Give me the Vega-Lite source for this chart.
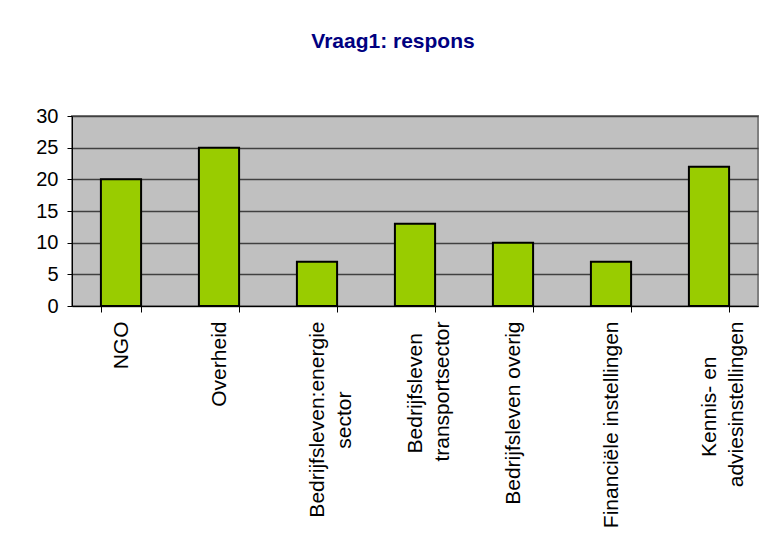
{
  "$schema": "https://vega.github.io/schema/vega-lite/v6.json",
  "autosize": "none",
  "width": 686,
  "height": 190,
  "padding": {"left": 72, "top": 116, "right": 4, "bottom": 238},
  "background": "white",
  "title": {
    "text": "Vraag1: respons",
    "font": "Liberation Sans",
    "fontSize": 21,
    "fontWeight": "bold",
    "color": "#000080",
    "anchor": "middle",
    "dx": -22,
    "offset": 54
  },
  "data": {
    "values": [
      {"groep": "NGO", "aantal": 20},
      {"groep": "Overheid", "aantal": 25},
      {"groep": "Bedrijfsleven:energie|sector", "aantal": 7},
      {"groep": "Bedrijfsleven|transportsector", "aantal": 13},
      {"groep": "Bedrijfsleven overig", "aantal": 10},
      {"groep": "Financiële instellingen", "aantal": 7},
      {"groep": "Kennis- en|adviesinstellingen", "aantal": 22}
    ]
  },
  "mark": {"type": "bar", "color": "#99cc00", "stroke": "#000000", "strokeWidth": 2},
  "encoding": {
    "x": {
      "field": "groep",
      "type": "nominal",
      "sort": null,
      "scale": {"paddingInner": 0.59, "paddingOuter": 0.295},
      "axis": {
        "title": null,
        "labelAngle": -90,
        "labelExpr": "!isValid(datum.value) ? '' : datum.value == 'Bedrijfsleven:energie|sector' ? ['Bedrijfsleven:energie', 'sector\u00a0\u00a0\u00a0\u00a0\u00a0\u00a0\u00a0\u00a0\u00a0\u00a0\u00a0\u00a0\u2060'] : datum.value == 'Bedrijfsleven|transportsector' ? ['Bedrijfsleven\u00a0\u00a0\u2060', 'transportsector'] : datum.value == 'Kennis- en|adviesinstellingen' ? ['Kennis- en\u00a0\u00a0\u00a0\u00a0\u00a0\u00a0\u2060', 'adviesinstellingen'] : split(datum.value, '|')",
        "labelFont": "Liberation Sans",
        "labelFontSize": 21,
        "labelColor": "#000000",
        "labelLineHeight": 27,
        "labelLimit": 0,
        "labelPadding": 9,
        "tickBand": "extent",
        "tickSize": 6,
        "tickColor": "#000000",
        "domainColor": "#000000",
        "domainWidth": 1,
        "grid": false
      }
    },
    "y": {
      "field": "aantal",
      "type": "quantitative",
      "scale": {"domain": [0, 30], "nice": false},
      "axis": {
        "title": null,
        "values": [0, 5, 10, 15, 20, 25, 30],
        "labelFont": "Liberation Sans",
        "labelFontSize": 20,
        "labelColor": "#000000",
        "labelPadding": 9,
        "tickSize": 5,
        "tickColor": "#000000",
        "domainColor": "#000000",
        "grid": true,
        "gridColor": "#404040",
        "gridWidth": 1.5
      }
    }
  },
  "config": {
    "view": {"fill": "#c0c0c0", "stroke": "#808080", "strokeWidth": 2}
  }
}
